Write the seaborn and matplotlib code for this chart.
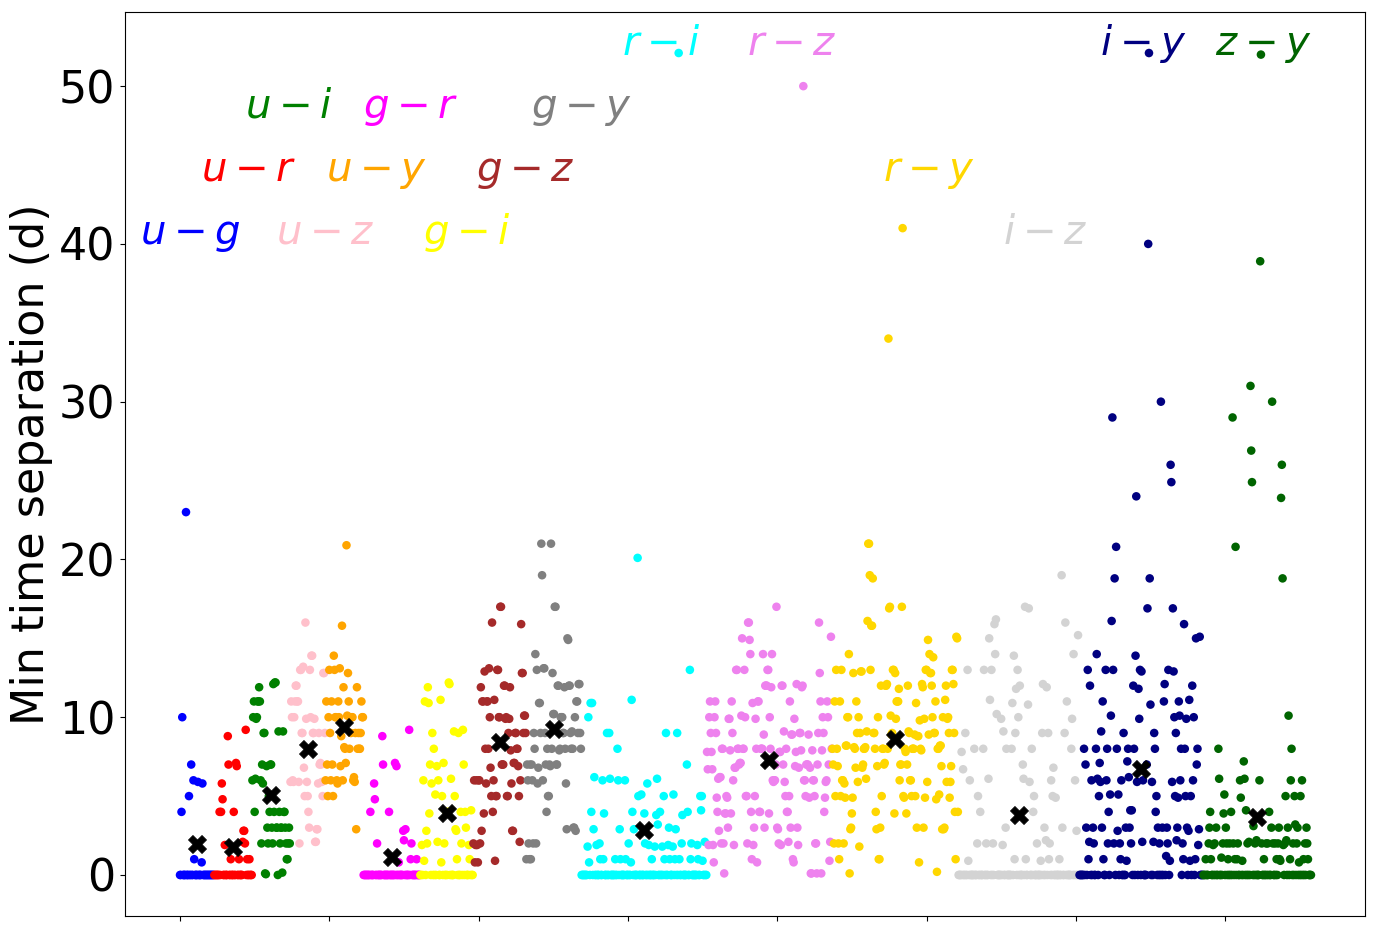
import numpy as np
import pandas as pd
import matplotlib
matplotlib.use("Agg")
import matplotlib.pyplot as plt
from matplotlib.ticker import MultipleLocator
import seaborn as sns

# ---------------- data (min time separation in days, in object order) ----------------
pairs = ["u-g", "u-r", "u-i", "u-z", "u-y", "g-r", "g-i", "g-z", "g-y",
         "r-i", "r-z", "r-y", "i-z", "i-y", "z-y"]
colors = ["blue", "red", "green", "pink", "orange", "magenta", "yellow", "brown", "gray",
          "cyan", "violet", "gold", "lightgray", "navy", "darkgreen"]

ug = [0, 0, 4, 10, 0, 0, 0, 0, 23, 0,
      0, 0, 5, 0, 0, 7, 0, 0, 6, 1,
      0, 0, 0, 0, 5.9, 0, 0, 0, 0, 0.8,
      5.8, 0, 0, 0, 0, 0, 0, 0, 0, 0,
      0, 0, 0, 0, 0, 0]
ur = [0, 0, 0, 0, 0, 0, 0, 4, 0, 4,
      5.8, 4.8, 0, 0, 1.9, 0, 0, 0, 8.8, 7,
      0, 0, 1, 0, 0, 0, 4, 0, 0, 7.1,
      6.9, 0, 0, 1, 0, 0, 0, 0, 2.1, 2.8,
      2.8, 2, 9.2, 0, 1, 0, 0, 1, 0, 0, 0]
ui = [6, 10, 11, 4, 6.1, 9.9, 10, 11, 11, 11.9,
      11, 6, 2, 7, 5.8, 9, 9, 0.1, 0.05, 6.9,
      3, 2, 5, 4, 7, 7, 3, 2, 12.1, 4,
      12.2, 12.2, 3, 3, 0, 9.1, 4, 2, 3, 3,
      0.15, 9.1, 4, 4, 3, 2, 1, 1, 2, 3, 2]
uz = [5.9, 11, 10, 6, 5.9, 10, 11, 12, 12, 11,
      11, 5.9, 2, 13, 13, 9, 9, 13.2, 6.8, 5,
      16, 9.9, 5.9, 5, 4, 3, 13, 10, 13.9, 13.9,
      9, 9, 9.9, 2.1, 2.1, 2.9, 2.9, 5.8, 9, 7,
      7.1, 7, 5.9, 5, 12.8, 12.8, 9]
uy = [6, 11, 7, 5, 10, 13, 9, 6, 11, 7,
      5, 13.9, 13, 10, 10, 6, 5.8, 11, 10, 13.1,
      6.9, 8.8, 15.8, 6, 11.9, 8.1, 8, 7.1, 20.9, 10.1,
      12.8, 11, 8, 10, 9, 10, 10, 6, 6.2, 5.9,
      9, 2.9, 11.9, 8, 9, 8, 8, 9, 11, 10, 10]
gr = [0, 0, 0, 0, 0, 0, 0, 0, 0, 4,
      0, 0, 0, 0, 5.8, 4.8, 0, 0, 2, 0,
      0, 0, 0, 0, 0, 8.8, 7, 0, 0, 0,
      0, 0, 0, 0, 4, 0, 0, 0, 0, 0,
      0, 0, 7.1, 0, 6.9, 0, 0, 0.8, 0, 0,
      0, 0, 0, 2.8, 2.2, 0, 2.9, 0, 0, 0,
      0, 9.2, 0, 1, 2, 0, 0, 0, 0, 0,
      0, 1, 0, 0, 0, 0]
gi = [0, 0, 1.9, 0, 6, 0.9, 11, 0, 2.8, 2,
      11.9, 10.9, 3.9, 7, 0, 5.8, 9, 0, 8, 0,
      5.1, 0, 6.9, 2.1, 6, 0, 0, 11.1, 0.8, 5,
      0, 7.1, 2, 0, 0, 4, 0, 4, 12.2, 12.1,
      0, 6.1, 0, 0, 0, 9.1, 5, 2.9, 2.8, 1,
      0, 9, 0, 0, 4, 2, 0, 9.2, 7, 0,
      4, 3, 0, 0, 0, 1.9, 1, 0, 4.1, 0, 0]
gz = [2, 6, 0.8, 1.9, 6, 1.9, 0.8, 6, 6, 2,
      11.9, 2.8, 11, 11, 3.9, 12.9, 8, 5.8, 11, 11,
      8, 13.1, 10, 6.8, 5, 16, 4, 6, 11.1, 0.9,
      5, 5, 13, 13, 10, 10, 17, 17, 7, 7,
      7, 12, 12, 9.9, 10, 5, 5, 9, 9.9, 11.9,
      7.9, 5.8, 2.8, 2.8, 7.1, 7.1, 9, 9, 8, 8,
      6.9, 5, 2.1, 6, 15.9, 12.8, 12.8, 9, 10.1, 10.1, 9]
gy = [1, 7, 6, 2, 1, 7, 1, 7, 6, 2,
      9, 8, 14, 2, 13, 5.8, 6.8, 10.9, 10.9, 9,
      21, 19, 6, 13.1, 13.1, 9, 7, 4, 8, 5,
      5, 7, 6.9, 21, 8, 12.8, 10.2, 10.2, 17, 17,
      7, 7, 12, 12, 7.9, 8, 10, 10, 10, 9,
      9, 11.9, 8, 5.8, 2.9, 15, 14.9, 12, 12, 9,
      8, 9.1, 8, 3, 3, 10, 2.8, 11, 11, 9,
      12.1, 12.1, 9, 8]
ri = [0, 0, 0, 0, 0, 0, 0, 0, 1.8, 10,
      0.8, 0, 10.9, 4, 10.9, 0, 2.9, 6.2, 0, 0,
      1.9, 0, 0, 0, 2, 1, 0, 0, 6, 1,
      3.9, 0, 0, 0, 9, 0, 0, 9, 6.1, 0,
      0, 0, 0, 0, 0, 1, 0, 0, 8, 6,
      0, 2.9, 1, 0, 0, 0, 0, 0, 6, 1,
      0, 0, 0, 2, 0, 0, 0.8, 11.1, 4, 0,
      2.9, 0, 0, 0, 0, 20.1, 5, 0, 0, 0,
      5.1, 0, 0, 0, 3.9, 2, 0, 0, 5.8, 0,
      1.9, 0, 0, 0, 1, 0, 0, 0, 1.8, 0,
      3.8, 6.1, 3.2, 0, 0, 4, 0, 0, 1.8, 0,
      5, 1, 0, 9, 0, 0, 1.9, 3, 1, 0,
      0, 0, 1.8, 5.1, 0, 1, 2.9, 0, 9, 0,
      52.1, 1, 0, 0, 2, 3.8, 0, 0, 0, 0,
      0, 7, 4, 0, 0, 13, 1, 2, 0, 0,
      0, 0, 0, 0, 0, 1.9, 1, 0, 0, 5,
      4.1, 5, 0.9, 0, 0, 2.1, 0, 0]
rz = [7.8, 6.7, 1.9, 10, 11, 9, 7.8, 6.7, 1.9, 0.8,
      10, 11, 9, 4.9, 4, 6.1, 2.8, 6.2, 6.2, 2,
      8, 8, 2, 0.1, 3.9, 3.9, 5, 4.9, 3, 9.9,
      9.9, 7.9, 3.9, 11, 9, 6, 1.9, 6.8, 6.8, 13,
      13, 8, 8, 7, 7.1, 7.1, 10.1, 15, 8, 8,
      13, 10, 5, 5, 2, 16, 16, 14.9, 14, 4,
      1, 10.9, 1.9, 3, 5, 9.9, 8, 0.8, 11, 11,
      4, 4, 8, 8, 8, 14, 8.9, 3, 12, 12,
      12, 13, 13, 3.9, 10, 8, 11.9, 14, 6, 5.9,
      6, 6, 7, 17, 3, 2.9, 2, 7.8, 7.8, 1.9,
      12, 12, 7, 9.1, 5.9, 5, 8, 4, 4, 2.1,
      5, 11, 3, 8.9, 8.9, 1, 0.8, 9.9, 6.9, 7.8,
      12.1, 3, 1.9, 6.8, 9, 9, 7.9, 11.9, 12, 50,
      6, 6, 5, 7, 7, 7, 8.9, 4.9, 6.8, 0.1,
      0.1, 7.9, 6, 6, 5, 2, 2, 0.1, 7, 9,
      16, 12.8, 11, 0.1, 7.9, 10, 9, 4, 4.9, 5.9,
      6, 11, 10, 7, 0.9, 2.1, 15.1, 8]
ry = [8, 7, 2, 11, 5, 13, 8, 6.9, 2, 1,
      11, 5, 13, 6, 6, 2, 5.8, 4.9, 8.2, 8.2,
      10, 10, 14, 0.1, 2.9, 3, 3.9, 4.9, 12.8, 8.1,
      8, 6.8, 11, 9, 5.9, 10, 1.8, 9, 12.9, 12.9,
      6.8, 7, 8, 8, 8.1, 6.1, 9.1, 16.1, 21, 21,
      19, 13, 15.8, 15.8, 18.8, 9, 9, 8, 4, 2.9,
      6.9, 10, 1, 1, 3, 12, 5, 8, 8, 7,
      7.1, 12, 12, 12.1, 8, 34, 16.9, 17, 10.1, 8.9,
      9, 13, 13, 3.9, 12.8, 9.9, 11, 11, 11, 11.8,
      6, 7, 7, 17, 41, 5, 4.9, 8, 7.8, 3.9,
      7, 12, 9.1, 9, 6, 6, 5, 8, 8, 8,
      8.9, 5, 10.9, 3, 8.8, 8.8, 0.8, 9.8, 8, 7.9,
      12.1, 11.9, 3, 9.9, 4.9, 13, 13, 5.9, 14.9, 8.9,
      14, 12.8, 12.8, 12, 10, 13.8, 9, 9, 11, 4.8,
      0.2, 8, 8, 5.1, 8.2, 8.2, 6.9, 2.9, 10, 2.9,
      3, 11.1, 12, 5.9, 9.9, 10, 9, 4.9, 5.9, 6.9,
      13, 13, 12.1, 9, 4, 1, 15.1, 15, 4]
iz = [0, 0, 0, 0, 7.8, 0, 6.7, 0, 0, 9,
      0, 0, 13, 0.9, 0, 6, 0, 0, 0, 0,
      0, 8, 0, 0, 0, 2, 5, 0, 0, 4,
      0, 0, 0, 8, 13, 0, 0, 2, 0, 0,
      6.1, 15, 11.1, 0, 13, 0, 2, 0, 15.9, 14,
      16.2, 10.2, 0, 0, 0, 0, 0, 9.9, 0, 1.9,
      9.1, 0, 0, 3, 8, 0, 0, 0, 0, 0,
      0, 8, 10.9, 0, 13.9, 1, 9, 11.8, 0, 13,
      10, 0, 12, 0, 0, 0, 7, 6.1, 0, 17,
      1, 0, 0, 10.8, 16.9, 5.9, 0, 0, 8, 0,
      4, 5, 0, 0, 0, 2, 0, 0, 0, 0,
      0.9, 0, 9, 12.1, 0, 3, 0, 2.2, 11.9, 0,
      9, 1, 2, 0, 6, 0, 5, 6.8, 0, 0,
      4.9, 0, 0, 0, 0, 1, 0, 0, 19, 3,
      0, 0, 9, 16, 0, 11, 0, 0, 0, 0,
      0, 8, 9.9, 0, 14, 0, 6, 0, 2.8, 0,
      15.2, 0]
iy = [0, 0, 0, 0, 0, 0, 8, 0, 7, 3,
      0, 13, 1, 2.1, 12, 0, 6, 0, 3, 2,
      0, 0, 8, 14, 6.1, 0, 5, 7.1, 5.9, 9.1,
      3, 11, 1, 0, 0, 13, 6, 8, 2, 4,
      0, 5.1, 10.1, 16.1, 29, 13, 2, 18.8, 0, 20.8,
      8, 2.8, 5.1, 0, 2, 1, 6, 0, 0, 9,
      0, 0, 3, 0.9, 7.2, 8, 6.2, 3, 4.1, 2,
      4.1, 0, 12, 8, 0, 13.9, 24, 5.9, 0, 11.8,
      9.9, 13, 0, 12.9, 2.1, 6, 0, 0, 0, 0,
      7, 16.9, 40, 52.1, 18.8, 10.8, 0, 5.9, 0, 2.1,
      9, 8, 4, 5, 0, 3, 0, 2, 0, 30,
      0, 3, 0, 11, 12.1, 0, 1.2, 3, 2, 13,
      0, 0.9, 26, 24.9, 5.9, 16.9, 12.9, 10, 5, 9,
      2.2, 3, 4.9, 11, 10.1, 6, 8, 0, 2, 1,
      15.9, 8, 5, 9.9, 3, 0, 2.8, 11.1, 0.9, 5,
      0, 12, 6, 10, 0, 1, 15, 7, 8, 1.9,
      2.9, 15.1, 0, 0, 0, 0]
zy = [0, 0, 0, 1, 0, 0, 0, 2, 3, 4,
      1, 0, 0, 1.9, 0, 2, 0, 3, 0, 0,
      8, 6.1, 0, 0, 1.1, 0, 2, 3.9, 5.1, 0,
      3, 2, 0, 1, 0, 2, 0, 4, 0, 29,
      2, 0, 1, 20.8, 0, 1, 2, 0, 0, 6,
      4.9, 0, 0.9, 0, 7.2, 6.1, 0, 4.1, 0, 2,
      0, 2.1, 0, 31, 26.9, 24.9, 0, 3.1, 0, 2,
      0, 2.2, 0, 0, 0, 6, 38.9, 52, 2, 0,
      0, 1, 0, 0, 2, 0, 2, 0, 4, 0,
      0, 3, 30, 2, 0, 0, 2, 0, 1, 0,
      2, 3, 1, 0.9, 23.9, 26, 18.8, 1.9, 0, 2,
      5, 2.2, 0, 3, 10.1, 0, 1, 6, 8, 0,
      2, 0, 5, 3.2, 0, 2, 3, 0, 0.8, 0,
      5, 0, 6, 0, 1, 0, 2, 0, 3, 2,
      1, 0, 0, 0, 0]

# mean separation of each pair, read from the black crosses
mean_sep = [1.96, 1.75, 5.08, 7.96, 9.38, 1.16, 3.96, 8.43, 9.27,
            2.87, 7.27, 8.6, 3.79, 6.7, 3.65]

groups = [ug, ur, ui, uz, uy, gr, gi, gz, gy, ri, rz, ry, iz, iy, zy]

# ---------------- tables ----------------
sep_all = np.concatenate([np.asarray(g, dtype=float) for g in groups])
pair_all = np.concatenate([[p] * len(g) for p, g in zip(pairs, groups)])
df = pd.DataFrame({"obj": np.arange(len(sep_all)), "sep": sep_all, "pair": pair_all})
centers = df.groupby("pair", sort=False)["obj"].mean().reindex(pairs).values
df_mean = pd.DataFrame({"obj": centers, "sep": mean_sep, "pair": pairs})

# ---------------- layout of the pair labels ----------------
label_x = [-54, 28, 87, 129, 196, 245, 325, 397, 470, 592, 759, 942, 1103, 1233, 1387]
label_y = [40, 44, 48, 40, 44, 48, 40, 44, 48, 52, 52, 44, 40, 52, 52]

# ---------------- figure ----------------
fig = plt.figure(figsize=(13.77, 9.31), dpi=100)
ax = fig.add_axes([125 / 1377, 15 / 931, 1240 / 1377, 904 / 931])

for p, c, lx, ly in zip(pairs, colors, label_x, label_y):
    a, b = p.split("-")
    ax.text(lx, ly, rf"${a}-{b}$", color=c, fontsize=29, ha="left", va="baseline")

sns.scatterplot(data=df, x="obj", y="sep", hue="pair", palette=dict(zip(pairs, colors)),
                hue_order=pairs, s=38, linewidth=0, legend=False, ax=ax, zorder=4)
sns.scatterplot(data=df_mean, x="obj", y="sep", marker="X", color="black", s=170,
                edgecolor="black", linewidth=0.5, legend=False, ax=ax, zorder=5)

ax.set_xlim(-73.7, 1587.4)
ax.set_ylim(-2.6, 54.7)
ax.xaxis.set_major_locator(MultipleLocator(200))
ax.yaxis.set_major_locator(MultipleLocator(10))
ax.tick_params(axis="x", labelbottom=False)
ax.tick_params(axis="y", labelsize=32)
ax.set_xlabel("")
ax.set_ylabel("Min time separation (d)", fontsize=32)

fig.savefig("out.png", dpi=100)
